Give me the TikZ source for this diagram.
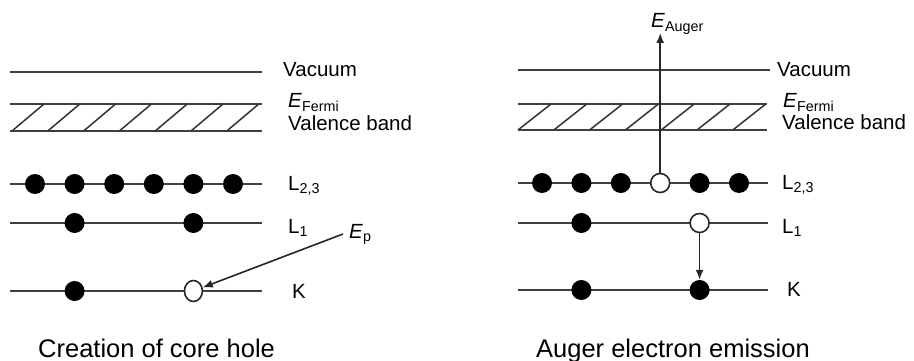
\documentclass[tikz,border=0pt]{standalone}
\usepackage{fontspec}
\setmainfont{Liberation Sans}
\usetikzlibrary{arrows.meta, shapes.geometric}

\begin{document}
\begin{tikzpicture}[
    x=1pt, y=-1pt,
    level/.style={black!75, line width=1.6pt},
    hatch/.style={black!80, line width=1.5pt},
    filled/.style={circle, fill=black, inner sep=0pt, minimum size=20pt},
    hole/.style={circle, draw=black!85, line width=1.6pt, fill=white, inner sep=0pt, minimum size=19pt},
    lbl/.style={anchor=base west, inner sep=0pt, font=\fontsize{20.5}{24}\selectfont},
    caption/.style={anchor=base west, inner sep=0pt, font=\fontsize{25.5}{30}\selectfont},
    arrow/.style={-{Latex[length=10pt, width=8pt]}, black!85, line width=1.6pt}
]
\useasboundingbox (0,0) rectangle (914,361);

% --- left: creation of core hole ---
\draw[level] (10,72) -- (262,72);
\draw[level] (10,104) -- (262,104);
\draw[level] (10,131) -- (262,131);
\foreach \i in {0,...,6}
    \draw[hatch] ({12+35.8*\i},131) -- ({44+35.8*\i},104);
\draw[level] (10,184) -- (262,184);
\draw[level] (10,223) -- (262,223);
\draw[level] (10,291) -- (262,291);
\foreach \i in {0,...,5}
    \node[filled] (la\i) at ({35+39.6*\i},184) {};
\node[filled] (lb1) at (74.6,223) {};
\node[filled] (lb2) at (193.4,223) {};
\node[filled] (lk1) at (74.6,291) {};
\node[ellipse, draw=black!85, line width=1.6pt, fill=white, inner sep=0pt,
      minimum width=18pt, minimum height=21pt] (lk2) at (193.4,291) {};

\node[lbl] (lvac) at (283,77) {Vacuum};
\node[lbl] (lfermi) at (288,108) {\textit{E}\textsubscript{Fermi}};
\node[lbl] (lval) at (288,131) {Valence band};
\node[lbl] (l23) at (288,190) {L\textsubscript{2,3}};
\node[lbl] (l1) at (288,233) {L\textsubscript{1}};
\node[lbl] (lk) at (292,298) {K};
\node[lbl] (ep) at (349,238) {\textit{E}\textsubscript{p}};
\draw[arrow] ([xshift=-6pt]ep.west) -- (lk2);
\node[caption] (lcap) at (38,357) {Creation of core hole};

% --- right: Auger electron emission ---
\draw[level] (518,70) -- (770,70);
\draw[level] (518,104) -- (767,104);
\draw[level] (518,130) -- (767,130);
\foreach \i in {0,...,6}
    \draw[hatch] ({518+35.8*\i},130) -- ({551+35.8*\i},104);
\draw[level] (518,183) -- (768,183);
\draw[level] (518,223) -- (768,223);
\draw[level] (518,290) -- (768,290);
\foreach \i in {0,1,2,4,5}
    \node[filled] (ra\i) at ({542+39.4*\i},183) {};
\node[hole] (ra3) at (660.2,183) {};
\node[filled] (rb1) at (581.4,223) {};
\node[hole] (rb2) at (699.6,223) {};
\node[filled] (rk1) at (581.4,290) {};
\node[filled] (rk2) at (699.6,290) {};
\coordinate (auger) at (660.2,33);
\draw[arrow] (ra3) -- (auger);
\draw[arrow] (rb2) -- (rk2);

\node[lbl] (eauger) at (651,28) {\textit{E}\textsubscript{Auger}};
\node[lbl] (rvac) at (777,77) {Vacuum};
\node[lbl] (rfermi) at (783,108) {\textit{E}\textsubscript{Fermi}};
\node[lbl] (rval) at (782,129) {Valence band};
\node[lbl] (r23) at (782,189) {L\textsubscript{2,3}};
\node[lbl] (r1) at (782,233) {L\textsubscript{1}};
\node[lbl] (rk) at (787,296) {K};
\node[caption] (rcap) at (536,357) {Auger electron emission};
\end{tikzpicture}
\end{document}
